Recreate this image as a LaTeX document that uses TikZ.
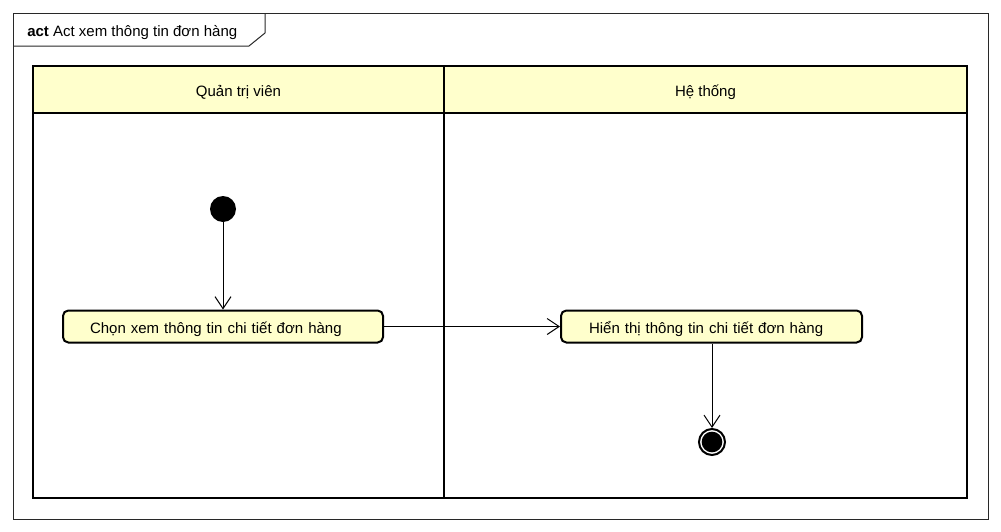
\documentclass[tikz,border=0pt]{standalone}
\usepackage{fontspec}
\setmainfont{Liberation Sans}
\usetikzlibrary{arrows.meta,shapes.geometric}
\definecolor{laneyellow}{RGB}{255,255,204}
\definecolor{actyellow}{RGB}{255,255,204}
\definecolor{framegray}{RGB}{40,40,40}
\tikzset{
  lbl/.style={font=\fontsize{11.25}{13}\selectfont, inner sep=0pt},
  lanehead/.style={draw=black, line width=1.5pt, fill=laneyellow},
  lanebody/.style={draw=black, line width=1.5pt},
  action/.style={draw=black, line width=1.5pt, fill=actyellow, rounded corners=4pt,
     font=\fontsize{11.25}{13}\selectfont, align=left, minimum height=24pt, inner ysep=0pt,
     text height=11pt, text depth=1.2pt},
  initnode/.style={circle, fill=black, minimum size=19.5pt, inner sep=0pt},
  finalouter/.style={circle, draw=black, line width=1.5pt, fill=white, minimum size=19.5pt, inner sep=0pt},
  finalinner/.style={circle, fill=black, minimum size=15.5pt, inner sep=0pt},
  flow/.style={draw=black, line width=0.75pt, -{Straight Barb[length=9pt,width=12pt,line width=0.75pt]}}
}
\begin{document}
\begin{tikzpicture}[x=0.75pt,y=-0.75pt]
\useasboundingbox (0,0) rectangle (1001,532);
% outer frame
\draw[framegray, line width=0.75pt] (13,13) rectangle (988,519);
\draw[framegray, line width=0.75pt] (13,46) -- (249,46) -- (265,33) -- (265,13);
\node[lbl, anchor=base west] (title) at (27,36) {\textbf{act} Act xem thông tin đơn hàng};
% swimlanes
\draw[lanehead] (33,66) rectangle (444,113);
\draw[lanehead] (444,66) rectangle (967,113);
\draw[lanebody] (33,113) rectangle (444,498);
\draw[lanebody] (444,113) rectangle (967,498);
\node[lbl, anchor=base] (lane1) at (238.5,96.5) {Quản trị viên};
\node[lbl, anchor=base] (lane2) at (705.5,96.5) {Hệ thống};
% nodes
\node[initnode] (init) at (223,209) {};
\node[action, minimum width=240pt, inner xsep=20.25pt, text width=199.5pt] (a1) at (223,326.5) {Chọn xem thông tin chi tiết đơn hàng};
\node[action, minimum width=225.75pt, inner xsep=21pt, text width=183.75pt] (a2) at (711.5,326.5) {Hiển thị thông tin chi tiết đơn hàng};
\node[finalouter] (final) at (712,442) {};
\node[finalinner] (finalin) at (final.center) {};
% flows
\draw[flow] (init) -- (a1);
\draw[flow] (a1) -- (a2);
\draw[flow] (a2.south -| final) -- (final);
\end{tikzpicture}
\end{document}
